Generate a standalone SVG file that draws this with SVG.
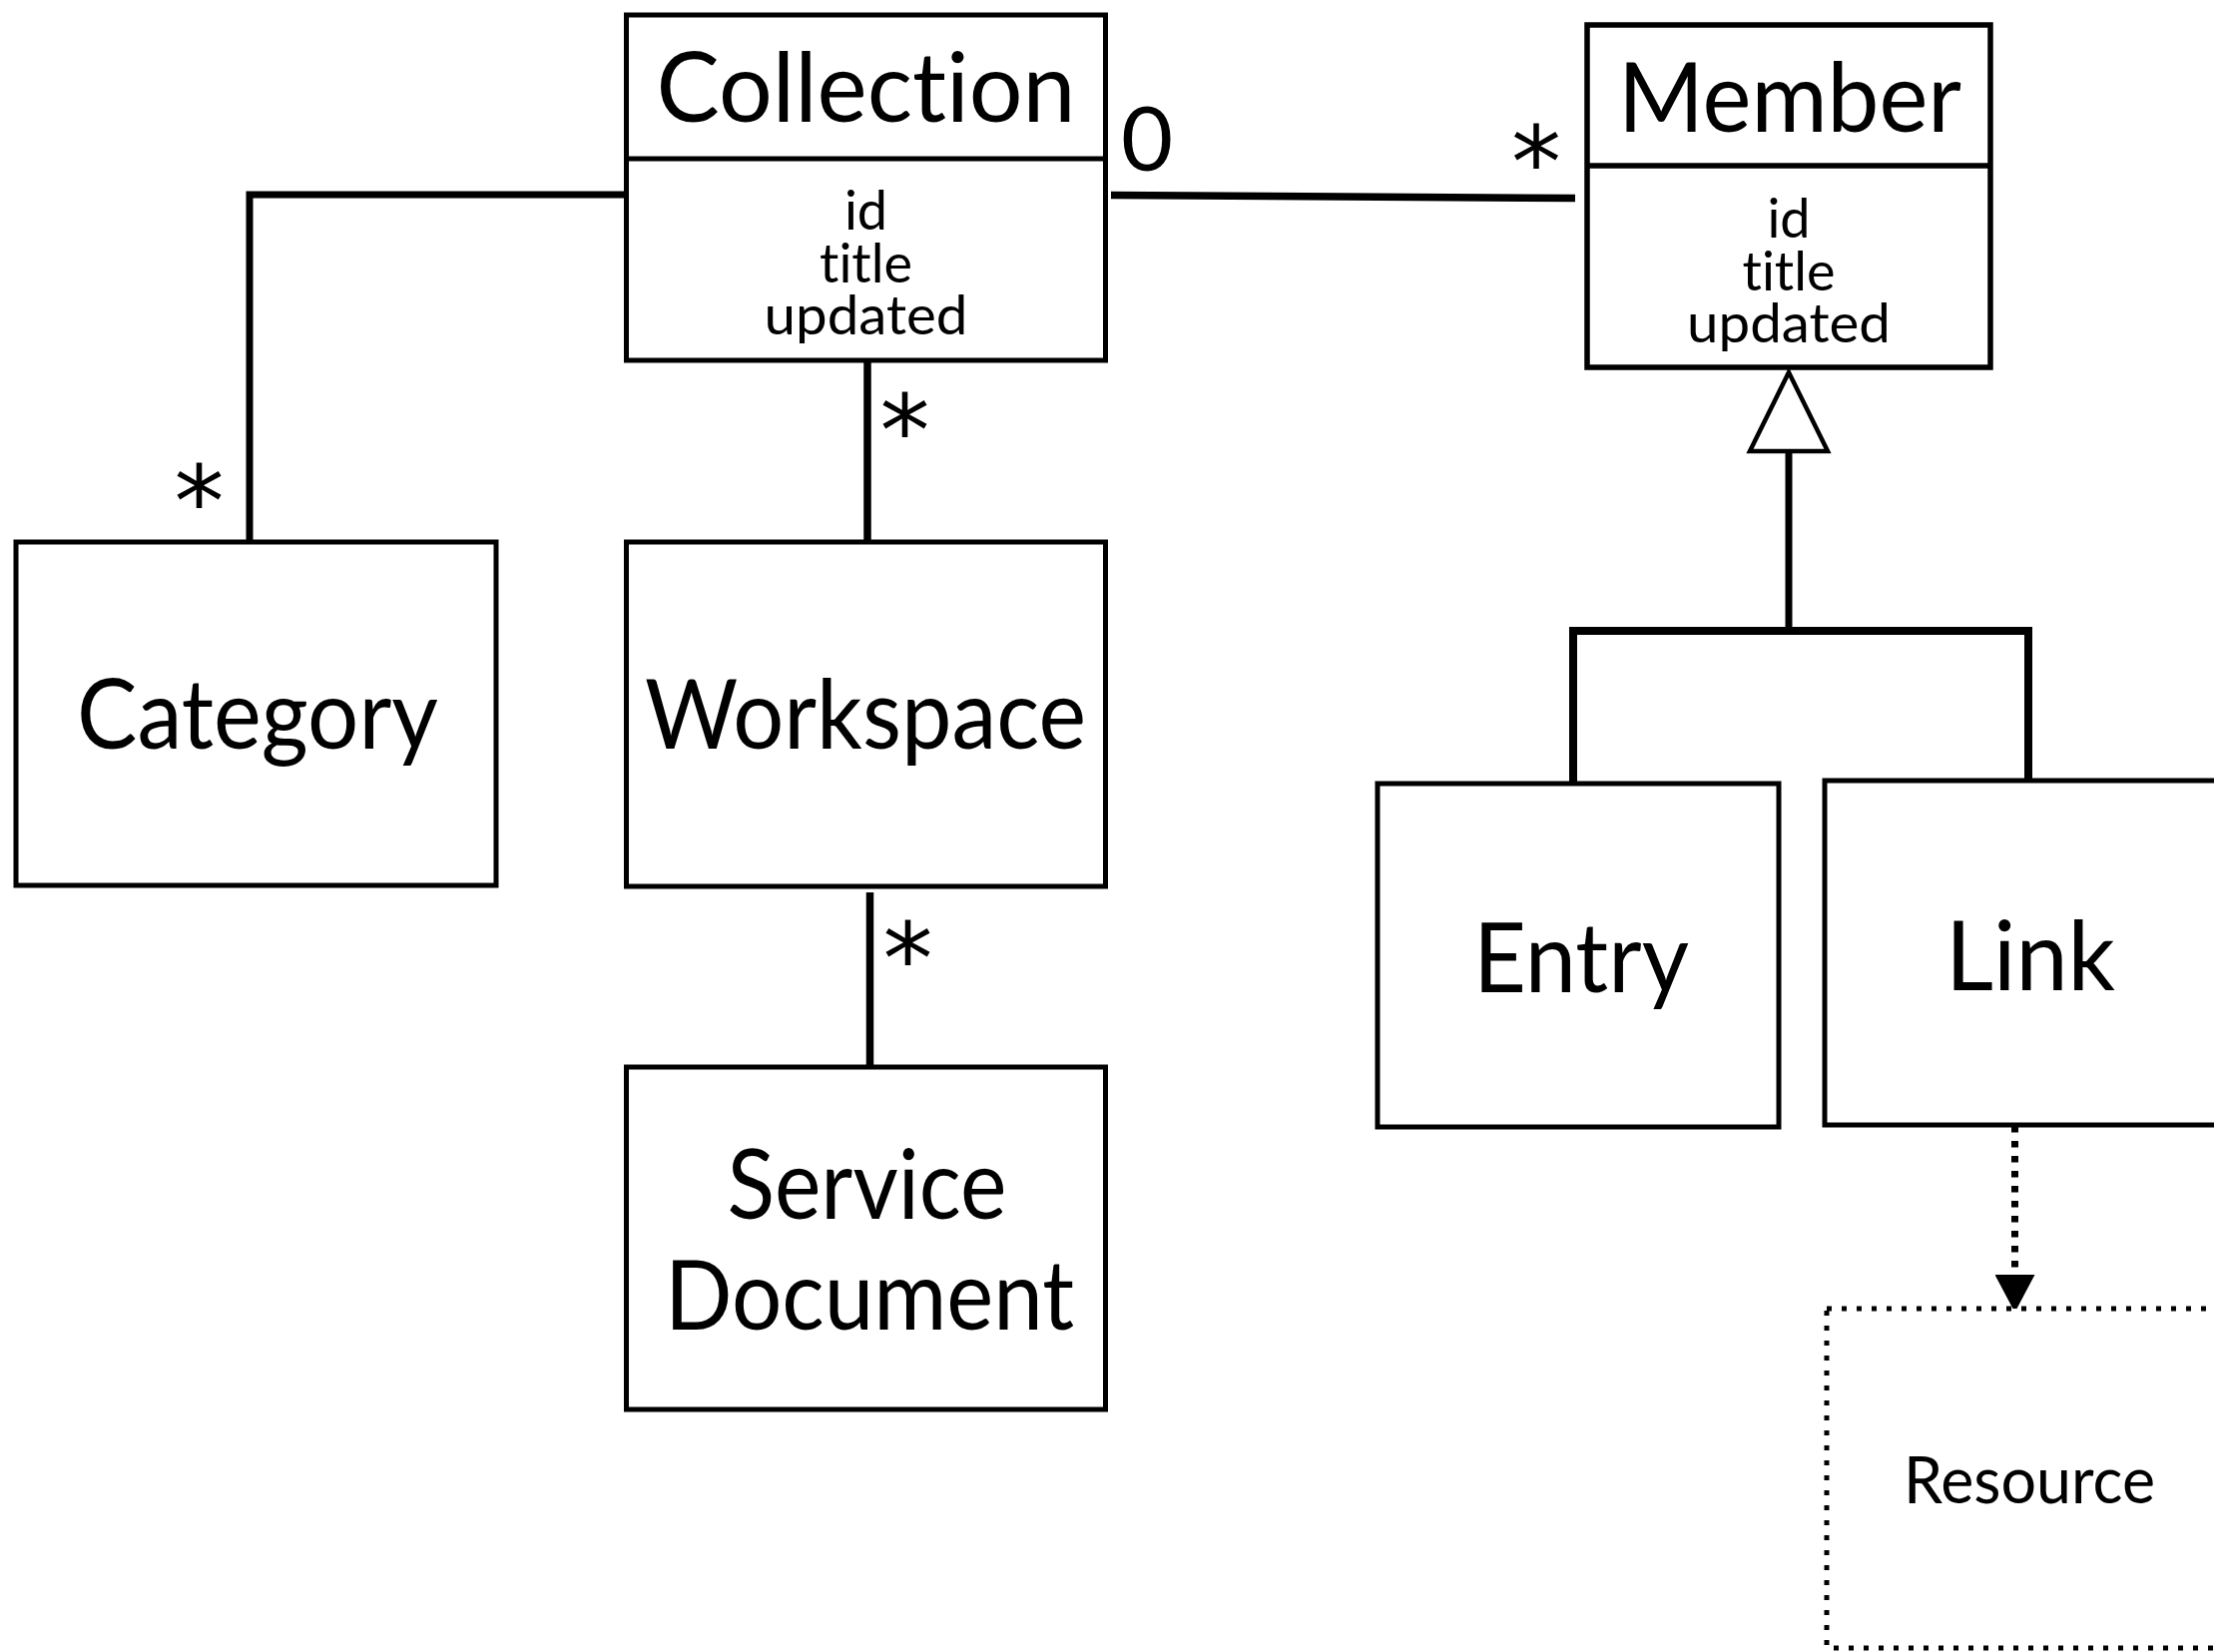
<svg xmlns="http://www.w3.org/2000/svg" width="2218" height="1655" viewBox="0 0 2218 1655">
  <style>
    text { font-variant-ligatures: none; font-feature-settings: "liga" 0, "clig" 0; }
    .box { fill: #ffffff; stroke: #000000; stroke-width: 5; }
    .dotbox { fill: #ffffff; stroke: #000000; stroke-width: 5; stroke-dasharray: 5 10; }
    .sep { stroke: #000000; stroke-width: 5; }
    .wire { fill: none; stroke: #000000; stroke-width: 7.5; stroke-linejoin: miter; }
    .dotwire { fill: none; stroke: #000000; stroke-width: 7; stroke-dasharray: 6.5 8.5; }
    .title { font-family: Lato, "Open Sans", sans-serif; font-size: 96px; fill: #000; text-anchor: middle; }
    .attr { font-family: Lato, "Open Sans", sans-serif; font-size: 54px; fill: #000; text-anchor: middle; }
    .small { font-family: Lato, "Open Sans", sans-serif; font-size: 65px; fill: #000; text-anchor: middle; }
    .mult { font-family: "DejaVu Sans", sans-serif; font-size: 100px; fill: #000; text-anchor: middle; }
  </style>
  <defs>
    <marker id="arrowhead" markerUnits="userSpaceOnUse" markerWidth="40" markerHeight="40" viewBox="0 0 33 35" refX="0" refY="17.5" orient="auto">
      <path d="M0,0 L33,17.5 L0,35 Z" fill="#000"/>
    </marker>
  </defs>

  <!-- connectors -->
  <g id="connectors">
    <polyline class="wire" points="250,543 250,195 627,195" style="stroke-width:7"/>
    <line class="wire" x1="1113" y1="195.5" x2="1578" y2="198.5"/>
    <line class="wire" x1="869" y1="361" x2="869" y2="543"/>
    <line class="wire" x1="871.5" y1="894" x2="871.5" y2="1069"/>
    <line class="wire" x1="1792" y1="452" x2="1792" y2="632" style="stroke-width:7"/>
    <polyline class="wire" points="1576,785 1576,632 2032,632 2032,782" style="stroke-width:8"/>
    <polygon points="1792,373 1753,452 1831,452" fill="#fff" stroke="#000" stroke-width="4.5" stroke-linejoin="miter"/>
    <line class="dotwire" x1="2018.5" y1="1128" x2="2018.5" y2="1277" marker-end="url(#arrowhead)"/>
    <!-- multiplicities -->
    <text class="mult" x="199.5" y="538">*</text>
    <text class="mult" x="906.5" y="467">*</text>
    <text class="mult" x="909.5" y="996">*</text>
    <text class="mult" x="1539" y="198">*</text>
    <text class="title" x="1149" y="171" style="font-size:90px">0</text>
  </g>

  <g id="collection">
    <rect class="box" x="627.5" y="15" width="480" height="346"/>
    <line class="sep" x1="627.5" y1="159" x2="1107.5" y2="159"/>
    <text class="title" x="867.5" y="122" textLength="420" lengthAdjust="spacingAndGlyphs">Collection</text>
    <text class="attr" x="867.5" y="230">id</text>
    <text class="attr" x="867.5" y="283">title</text>
    <text class="attr" x="867.5" y="335" textLength="204" lengthAdjust="spacingAndGlyphs">updated</text>
  </g>

  <g id="member">
    <rect class="box" x="1590" y="25" width="404" height="343" style="stroke-width:5.5"/>
    <line class="sep" x1="1590" y1="166" x2="1994" y2="166" style="stroke-width:5.5"/>
    <text class="title" x="1793" y="132" textLength="344" lengthAdjust="spacingAndGlyphs">Member</text>
    <text class="attr" x="1792" y="238">id</text>
    <text class="attr" x="1792" y="290.5">title</text>
    <text class="attr" x="1792" y="343" textLength="204" lengthAdjust="spacingAndGlyphs">updated</text>
  </g>

  <g id="category">
    <rect class="box" x="16" y="543" width="481" height="344"/>
    <text class="title" x="258" y="750" textLength="362" lengthAdjust="spacingAndGlyphs">Category</text>
  </g>

  <g id="workspace">
    <rect class="box" x="627.5" y="543" width="480" height="345"/>
    <text class="title" x="867" y="750" textLength="442" lengthAdjust="spacingAndGlyphs">Workspace</text>
  </g>

  <g id="service-document">
    <rect class="box" x="627.5" y="1069" width="480" height="343"/>
    <text class="title" x="868.5" y="1221" textLength="280" lengthAdjust="spacingAndGlyphs">Service</text>
    <text class="title" x="871" y="1332" textLength="410" lengthAdjust="spacingAndGlyphs">Document</text>
  </g>

  <g id="entry">
    <rect class="box" x="1380" y="785" width="402" height="344"/>
    <text class="title" x="1584" y="994" textLength="216" lengthAdjust="spacingAndGlyphs">Entry</text>
  </g>

  <g id="link">
    <rect class="box" x="1828" y="782" width="412" height="345"/>
    <text class="title" x="2034" y="992" textLength="170" lengthAdjust="spacingAndGlyphs">Link</text>
  </g>

  <g id="resource">
    <rect class="dotbox" x="1830" y="1311" width="406" height="340"/>
    <text class="small" x="2033" y="1506" textLength="252" lengthAdjust="spacingAndGlyphs">Resource</text>
  </g>
</svg>
